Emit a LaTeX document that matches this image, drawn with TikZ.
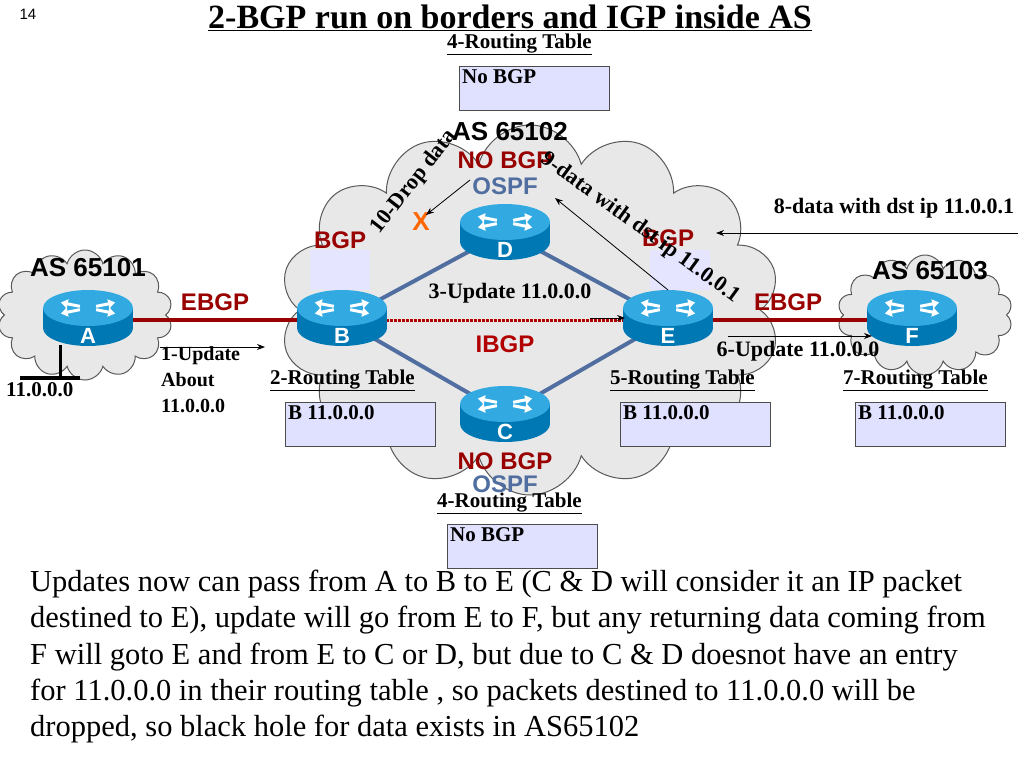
\documentclass[tikz,border=0pt]{standalone}
\usepackage{fontspec}
\setmainfont{Liberation Serif}
\newfontfamily\sans{Liberation Sans}
\usetikzlibrary{shapes.symbols,arrows.meta}
\definecolor{steel}{RGB}{80,110,160}
\definecolor{rbody}{RGB}{0,120,180}
\definecolor{rtop}{RGB}{50,170,225}
\begin{document}
\begin{tikzpicture}[x=1pt,y=-1pt,
 cl/.style={cloud,cloud puffs=14,draw=gray!70!black,fill=gray!18,line width=1pt},
 tbl/.style={draw=black!70,fill=blue!12,minimum width=150pt,minimum height=44pt,anchor=north west,inner sep=0pt},
 ttl/.style={font=\bfseries\fontsize{21}{21}\selectfont,anchor=south west,inner sep=0pt},
 ttxt/.style={font=\bfseries\fontsize{21}{21}\selectfont,anchor=north west,inner sep=3pt},
 lab/.style={font=\bfseries\fontsize{22}{22}\selectfont},
 red/.style={font=\sans\bfseries\fontsize{24}{24}\selectfont,text=red!60!black},
 blu/.style={font=\sans\bfseries\fontsize{24}{24}\selectfont,text=steel},
 as/.style={font=\sans\bfseries\fontsize{26}{26}\selectfont},
 link/.style={line width=4pt,steel},
 arr/.style={-{Stealth[length=8pt]},thick}]
\useasboundingbox (0,0) rectangle (1024,768);
\fill[white] (0,0) rectangle (1024,768);
% clouds
\node[cl,minimum width=500pt,minimum height=370pt] (big) at (530,310) {};
\node[cl,minimum width=175pt,minimum height=130pt] (lc) at (85,315) {};
\node[cl,minimum width=175pt,minimum height=120pt] (rc) at (925,315) {};
% shadows under labels
\fill[blue!10] (310,250) rectangle (370,290);
\fill[blue!10] (650,250) rectangle (710,290);
% links
\draw[line width=4pt,red!60!black] (88,320) -- (342,320);
\draw[line width=4pt,red!60!black] (668,320) -- (912,320);
\draw[link] (342,320) -- (505,232) -- (668,320) -- (505,414) -- cycle;
\draw[line width=3pt,red!70!black,densely dotted] (342,320) -- (668,320);
% routers
\foreach \n/\x/\y in {A/88/318,B/342/318,D/505/232,E/668/318,C/505/414,F/912/318}{
 \begin{scope}[shift={(\x,\y)}]
 \fill[rbody] (0,10) ellipse[x radius=45,y radius=18];
 \fill[rbody] (-45,-10) rectangle (45,10);
 \fill[rtop] (0,-10) ellipse[x radius=45,y radius=18];
 \foreach \a in {25,155,205,335}{\draw[white,line width=3pt,-{Triangle[length=7pt,width=9pt]}] ({9*cos(\a)},{-10+4*sin(\a)}) -- ({30*cos(\a)},{-10+13*sin(\a)});}
 \node[white,font=\sans\bfseries\fontsize{22}{22}\selectfont] (\n) at (0,18) {\n};
 \end{scope}}
% A's network
\draw[line width=3pt] (60,345) -- (60,378);
\draw[line width=4pt] (20,378) -- (80,378);
\node[font=\bfseries\fontsize{21}{21}\selectfont,anchor=north west,inner sep=0pt] (net) at (6,382) {11.0.0.0};
% labels
\node[font=\sans\fontsize{15}{15}\selectfont] (pg) at (28,14) {14};
\node[font=\bfseries\fontsize{34}{34}\selectfont] (title) at (510,18) {\underline{2-BGP run on borders and IGP inside AS}};
\node[as] (a1) at (88,268) {AS 65101};
\node[as] (a2) at (510,132) {AS 65102};
\node[as] (a3) at (930,271) {AS 65103};
\node[red] (e1) at (215,302) {EBGP};
\node[red] (e2) at (788,302) {EBGP};
\node[red] (b1) at (340,240) {BGP};
\node[red] (b2) at (668,238) {BGP};
\node[red] (nb1) at (505,160) {NO BGP};
\node[blu] (os1) at (505,186) {OSPF};
\node[red] (nb2) at (505,461) {NO BGP};
\node[blu] (os2) at (505,484) {OSPF};
\node[red,font=\sans\bfseries\fontsize{26}{26}\selectfont,text=orange!80!red] (x) at (421,222) {X};
\node[red,text=red!70!black] (ib) at (505,344) {IBGP};
\node[lab] (u3) at (510,293) {3-Update 11.0.0.0};
\node[lab] (u6) at (798,351) {6-Update 11.0.0.0};
\node[lab,align=left,anchor=north west,inner sep=0pt,font=\bfseries\fontsize{20}{26}\selectfont] (u1) at (161,346) {1-Update\\About\\11.0.0.0};
\node[lab] (d8) at (894,208) {8-data with dst ip 11.0.0.1};
\node[lab,rotate=-36] (d9) at (640,228) {9-data with dst ip 11.0.0.1};
\node[lab,rotate=52] (d10) at (414,182) {10-Drop data};
% arrows
\coordinate (u1s) at (160,347); \coordinate (u1e) at (265,347);
\draw[arr] (u1s) -- (u1e);
\coordinate (u3s) at (590,318); \coordinate (u3e) at (625,318); \draw[arr] (u3s) -- (u3e);
\coordinate (u6s) at (728,336); \coordinate (u6e) at (872,336);
\draw[arr] (u6s) -- (u6e);
\coordinate (d8s) at (1018,233); \coordinate (d8e) at (716,233);
\draw[arr] (d8s) -- (d8e);
\coordinate (d9s) at (668,290); \coordinate (d9e) at (555,198);
\draw[arr] (d9s) -- (d9e);
\coordinate (d10s) at (470,180); \coordinate (d10e) at (426,215);
\draw[arr] (d10s) -- (d10e);
% tables
\node[ttl] (t4a) at (447,55) {\underline{4-Routing Table}};
\node[tbl] (r4a) at (459,66) {}; \node[ttxt] at (r4a.north west) {No BGP};
\node[ttl] (t2) at (270,391) {\underline{2-Routing Table}};
\node[tbl] (r2) at (285,402) {}; \node[ttxt] at (r2.north west) {B 11.0.0.0};
\node[ttl] (t5) at (610,391) {\underline{5-Routing Table}};
\node[tbl] (r5) at (620,402) {}; \node[ttxt] at (r5.north west) {B 11.0.0.0};
\node[ttl] (t7) at (843,391) {\underline{7-Routing Table}};
\node[tbl] (r7) at (855,402) {}; \node[ttxt] at (r7.north west) {B 11.0.0.0};
\node[ttl] (t4b) at (437,514) {\underline{4-Routing Table}};
\node[tbl] (r4b) at (447,524) {}; \node[ttxt] at (r4b.north west) {No BGP};
% body text
\node[anchor=north west,align=left,font=\fontsize{30.5}{36.2}\selectfont,inner sep=0pt] (body) at (30,570) {Updates now can pass from A to B to E (C \& D will consider it an IP packet\\destined to E), update will go from E to F, but any returning data coming from\\F will goto E and from E to C or D, but due to C \& D doesnot have an entry\\for 11.0.0.0 in their routing table , so packets destined to 11.0.0.0 will be\\dropped, so black hole for data exists in AS65102};
\end{tikzpicture}
\end{document}
